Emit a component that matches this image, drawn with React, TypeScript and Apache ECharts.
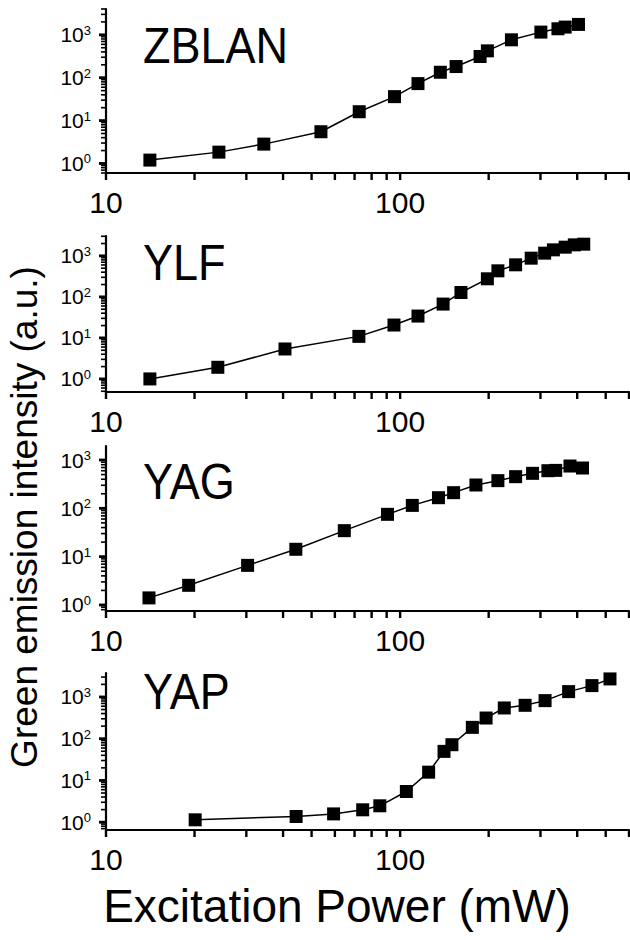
import React, { useEffect, useRef } from "react";
import * as echarts from "echarts";

// ---- data ----
const panelNames = ["ZBLAN", "YLF", "YAG", "YAP"];

const zblanPower = [14.1, 24.2, 34.4, 53.8, 72.6, 95.7, 115, 137, 155, 187, 198, 239, 301, 344, 364, 404];
const zblanIntensity = [1.2, 1.84, 2.83, 5.5, 16.1, 36.2, 72.9, 134, 182, 312, 423, 765, 1157, 1384, 1514, 1747];

const ylfPower = [14.1, 24.0, 40.6, 72.4, 95.3, 115, 140, 161, 198, 215, 247, 279, 310, 332, 364, 391, 421];
const ylfIntensity = [1.0, 1.92, 5.37, 10.9, 20.6, 34.1, 66.8, 128, 276, 432, 605, 879, 1164, 1402, 1629, 1855, 1927];

const yagPower = [14.0, 19.1, 30.3, 44.2, 64.6, 90.6, 110, 135, 152, 181, 215, 247, 282, 318, 338, 378, 417];
const yagIntensity = [1.4, 2.55, 6.6, 14.2, 34.5, 75.1, 115, 166, 211, 304, 374, 452, 530, 601, 610, 751, 683];

const yapPower = [20.1, 44.3, 59.4, 74.6, 85.3, 105, 125, 141, 150, 176, 196, 226, 266, 311, 374, 449, 517];
const yapIntensity = [1.14, 1.37, 1.58, 1.98, 2.47, 5.44, 15.8, 49.7, 71.8, 187, 313, 545, 631, 817, 1343, 1871, 2704];

const xTickValues = [10, 20, 30, 40, 50, 60, 70, 80, 90, 100, 200, 300, 400, 500, 600];
const xLabelValues = [10, 100];
const yMajorValues = [1, 10, 100, 1000];
const yMinorValues = [
  0.2, 0.3, 0.4, 0.5, 0.6, 0.7, 0.8, 0.9,
  2, 3, 4, 5, 6, 7, 8, 9,
  20, 30, 40, 50, 60, 70, 80, 90,
  200, 300, 400, 500, 600, 700, 800, 900,
  2000, 3000, 4000, 5000, 6000, 7000, 8000, 9000,
];

const xTitle = "Excitation Power (mW)";
const yTitle = "Green emission intensity (a.u.)";

const seriesPower = [zblanPower, ylfPower, yagPower, yapPower];
const seriesIntensity = [zblanIntensity, ylfIntensity, yagIntensity, yapIntensity];

// ---- layout ----
const GRID_LEFT = 106;
const GRID_WIDTH = 523;
const panels = [
  { top: 9, height: 164, yMin: 0.6, yMax: 4000, labelY: 46 },
  { top: 236, height: 156, yMin: 0.48, yMax: 3050, labelY: 263 },
  { top: 446, height: 165, yMin: 0.75, yMax: 1950, labelY: 482 },
  { top: 673, height: 157, yMin: 0.65, yMax: 3750, labelY: 692 },
];
const X_MIN = 10;
const X_MAX = 600;

const FONT = "'Liberation Sans', Arial, Helvetica, sans-serif";

export default function App() {
  const ref = useRef<HTMLDivElement>(null);

  useEffect(() => {
    if (!ref.current) return;
    const chart = echarts.init(ref.current, undefined, { renderer: "svg" });

    const grid = panels.map((p) => ({
      left: GRID_LEFT,
      width: GRID_WIDTH,
      top: p.top,
      height: p.height,
      containLabel: false,
      outerBoundsMode: "none",
    }));

    const xAxis = panels.map((_, i) => ({
      type: "log",
      logBase: 10,
      gridIndex: i,
      position: "bottom",
      min: X_MIN,
      max: X_MAX,
      axisLine: { show: true, onZero: false, lineStyle: { color: "#000", width: 2.2 } },
      axisTick: { show: false },
      axisLabel: {
        show: true,
        customValues: xLabelValues,
        fontFamily: FONT,
        fontSize: 30,
        color: "#000",
        margin: 14,
        formatter: (v: number) => String(Math.round(v)),
      },
      splitLine: { show: false },
    }));

    const yAxis = panels.map((p, i) => ({
      type: "log",
      logBase: 10,
      gridIndex: i,
      position: "left",
      min: p.yMin,
      max: p.yMax,
      axisLine: { show: true, onZero: false, lineStyle: { color: "#000", width: 2.2 } },
      axisTick: { show: false },
      axisLabel: {
        show: true,
        customValues: yMajorValues,
        margin: 15,
        color: "#000",
        formatter: (v: number) => `{a|10}{b|${Math.round(Math.log10(v))}}`,
        rich: {
          a: { fontFamily: FONT, fontSize: 21, color: "#000", lineHeight: 22 },
          b: { fontFamily: FONT, fontSize: 13, color: "#000", verticalAlign: "top", lineHeight: 14 },
        },
      },
      splitLine: { show: false },
    }));

    const series = panels.map((_, i) => ({
      type: "line",
      name: panelNames[i],
      xAxisIndex: i,
      yAxisIndex: i,
      data: seriesPower[i].map((x, k) => [x, seriesIntensity[i][k]]),
      symbol: "rect",
      symbolSize: 13,
      lineStyle: { color: "#000", width: 1.5 },
      itemStyle: { color: "#000" },
      z: 3,
    }));

    const textGraphics: any[] = panels.map((p, i) => ({
      type: "text",
      x: 143,
      y: p.labelY,
      scaleX: 0.9,
      style: {
        text: panelNames[i],
        fontFamily: FONT,
        fontSize: 50,
        fill: "#000",
        align: "left",
        verticalAlign: "middle",
      },
    }));
    textGraphics.push({
      type: "text",
      x: 24.5,
      y: 517,
      rotation: Math.PI / 2,
      style: {
        text: yTitle,
        fontFamily: FONT,
        fontSize: 37,
        fill: "#000",
        align: "center",
        verticalAlign: "middle",
      },
    });
    textGraphics.push({
      type: "text",
      x: 337,
      y: 906,
      style: {
        text: xTitle,
        fontFamily: FONT,
        fontSize: 46,
        fill: "#000",
        align: "center",
        verticalAlign: "middle",
      },
    });

    chart.setOption({
      animation: false,
      backgroundColor: "#fff",
      grid,
      xAxis,
      yAxis,
      series,
      graphic: textGraphics,
    } as any);

    // Build a value->pixel mapper for an axis from the library's own conversion.
    // Checks which input space the log axis expects; falls back to log interpolation
    // between the axis ends if the conversion is unavailable.
    const makeMapper = (finder: any, lo: number, hi: number, pLo: number, pHi: number) => {
      const conv = (v: number) => {
        try {
          const r: any = chart.convertToPixel(finder, v);
          return Number(Array.isArray(r) ? r[0] : r);
        } catch (e) {
          return NaN;
        }
      };
      const ok = (a: number, b: number) =>
        isFinite(a) && isFinite(b) && Math.abs(a - pLo) < 3 && Math.abs(b - pHi) < 3;
      if (ok(conv(lo), conv(hi))) return (v: number) => conv(v);
      if (ok(conv(Math.log10(lo)), conv(Math.log10(hi)))) return (v: number) => conv(Math.log10(v));
      const a = Math.log10(lo);
      const b = Math.log10(hi);
      return (v: number) => pLo + ((Math.log10(v) - a) / (b - a)) * (pHi - pLo);
    };

    const tickGraphics: any[] = [];
    panels.forEach((p, i) => {
      const bottom = p.top + p.height;
      const mx = makeMapper({ xAxisIndex: i }, X_MIN, X_MAX, GRID_LEFT, GRID_LEFT + GRID_WIDTH);
      const my = makeMapper({ yAxisIndex: i }, p.yMin, p.yMax, bottom, p.top);
      const x0 = mx(X_MIN);
      const y0 = my(p.yMin);
      xTickValues.forEach((v) => {
        const px = mx(v);
        tickGraphics.push({
          type: "rect",
          shape: { x: px - 1.2, y: y0, width: 2.4, height: 7 },
          style: { fill: "#000" },
          silent: true,
          z: 10,
        });
      });
      yMajorValues
        .filter((v) => v >= p.yMin && v <= p.yMax)
        .forEach((v) => {
          const py = my(v);
          tickGraphics.push({
            type: "rect",
            shape: { x: x0 - 7, y: py - 1.4, width: 7, height: 2.8 },
            style: { fill: "#000" },
            silent: true,
            z: 10,
          });
        });
      yMinorValues
        .filter((v) => v >= p.yMin && v <= p.yMax)
        .forEach((v) => {
          const py = my(v);
          tickGraphics.push({
            type: "rect",
            shape: { x: x0 - 5, y: py - 0.8, width: 5, height: 1.6 },
            style: { fill: "#000" },
            silent: true,
            z: 10,
          });
        });
    });

    chart.setOption({ graphic: [...textGraphics, ...tickGraphics] } as any);

    return () => chart.dispose();
  }, []);

  return (
    <div
      ref={ref}
      style={{ position: "absolute", left: 0, top: 0, width: 630, height: 940 }}
    />
  );
}
